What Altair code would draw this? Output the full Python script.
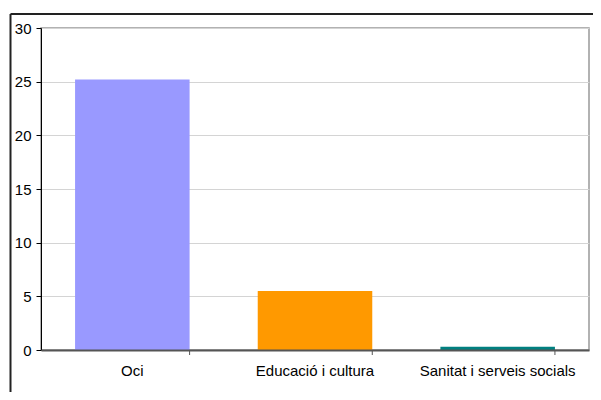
import altair as alt
import pandas as pd

categories = ["Oci", "Educació i cultura", "Sanitat i serveis socials"]
values = [25.2, 5.5, 0.3]
colors = ["#9999FF", "#FF9900", "#008080"]
y_ticks = [0, 5, 10, 15, 20, 25, 30]

df = pd.DataFrame({"category": categories, "value": values})
FONT = "Liberation Sans"

x_enc = alt.X(
    "category:N",
    sort=categories,
    scale=alt.Scale(paddingInner=0.373, paddingOuter=0.1865),
    axis=alt.Axis(
        title=None, labelAngle=0, ticks=False, domainColor="#555555",
        domainWidth=2, labelPadding=13, labelFontSize=15, labelFont=FONT,
        labelColor="#000000", zindex=1,
    ),
)

bars = alt.Chart(df).mark_bar().encode(
    x=x_enc,
    y=alt.Y(
        "value:Q",
        scale=alt.Scale(domain=[0, 30], nice=False),
        axis=alt.Axis(
            title=None, values=y_ticks, grid=True, gridColor="#d4d4d4",
            domainColor="#000000", tickColor="#000000", tickSize=5,
            labelPadding=5, labelFontSize=15, labelFont=FONT,
            labelColor="#000000",
        ),
    ),
    color=alt.Color("category:N", scale=alt.Scale(domain=categories, range=colors), legend=None),
)

ticks = alt.Chart(df).mark_rule(color="#555555", strokeWidth=1).encode(
    x=alt.X("category:N", sort=categories, bandPosition=1),
    y=alt.value(322),
    y2=alt.value(327),
)

one = alt.Data(values=[{"a": 1}])
border_v = alt.Chart(one).mark_rule(color="#222222", strokeWidth=2).encode(
    x=alt.value(-30.5), y=alt.value(-14), y2=alt.value(364)
)
border_h = alt.Chart(one).mark_rule(color="#222222", strokeWidth=2).encode(
    x=alt.value(-30.5), x2=alt.value(552), y=alt.value(-14)
)

chart = alt.layer(border_v, border_h, bars, ticks).properties(
    width=548,
    height=322,
    autosize=alt.AutoSizeParams(type="none"),
    padding={"left": 33, "top": 20, "right": 4, "bottom": 42},
).configure_view(stroke="#999999", strokeWidth=1.5)

chart.save("out.html", embed_options={"renderer": "svg", "actions": False})
